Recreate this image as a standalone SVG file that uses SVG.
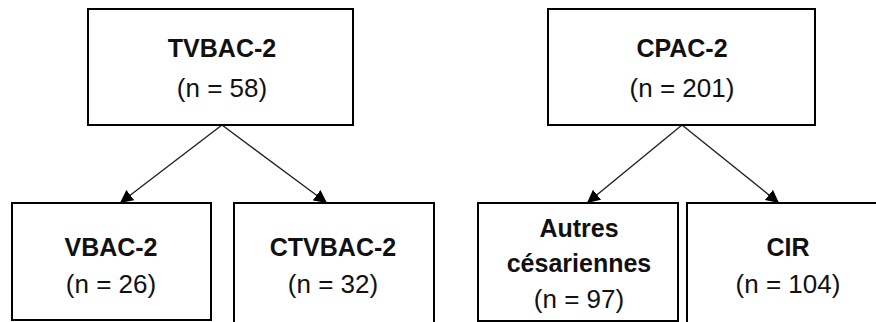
<svg xmlns="http://www.w3.org/2000/svg" width="876" height="322" viewBox="0 0 876 322">
<defs>
<style>
.box{fill:#fff;stroke:#000;stroke-width:2}
.t{font-family:"Liberation Sans",Arial,sans-serif;font-size:26px;text-anchor:middle;fill:#111}
.b{font-weight:bold;font-size:25px}
.c{stroke:#222;stroke-width:1.4;fill:none;marker-end:url(#ah)}
</style>
<marker id="ah" viewBox="0 0 10 10" refX="10" refY="5" markerWidth="13" markerHeight="14" markerUnits="userSpaceOnUse" orient="auto">
<path d="M0,0 L10,5 L0,10 z" fill="#000"/>
</marker>
</defs>
<rect width="876" height="322" fill="#fff"/>
<g id="connectors">
<line class="c" x1="222" y1="125" x2="120" y2="203"/>
<line class="c" x1="222" y1="125" x2="327" y2="203"/>
<line class="c" x1="682" y1="125" x2="587" y2="203"/>
<line class="c" x1="682" y1="125" x2="779" y2="203"/>
</g>
<g id="tvbac2">
<rect class="box" x="88" y="9" width="265" height="116"/>
<text class="t b" x="222" y="57">TVBAC-2</text>
<text class="t" x="222" y="97">(n = 58)</text>
</g>
<g id="vbac2">
<rect class="box" x="12" y="203" width="199" height="117"/>
<text class="t b" x="111" y="256">VBAC-2</text>
<text class="t" x="111" y="293">(n = 26)</text>
</g>
<g id="ctvbac2">
<rect class="box" x="234" y="203" width="200" height="121"/>
<text class="t b" x="333" y="256">CTVBAC-2</text>
<text class="t" x="333" y="293">(n = 32)</text>
</g>
<g id="cpac2">
<rect class="box" x="548" y="9" width="267" height="116"/>
<text class="t b" x="682" y="57">CPAC-2</text>
<text class="t" x="682" y="97">(n = 201)</text>
</g>
<g id="autres">
<rect class="box" x="478" y="203" width="200" height="118"/>
<text class="t b" x="579" y="237">Autres</text>
<text class="t b" x="579" y="272">césariennes</text>
<text class="t" x="579" y="308">(n = 97)</text>
</g>
<g id="cir">
<rect class="box" x="687" y="203" width="200" height="121"/>
<text class="t b" x="788" y="256">CIR</text>
<text class="t" x="788" y="293">(n = 104)</text>
</g>
</svg>
